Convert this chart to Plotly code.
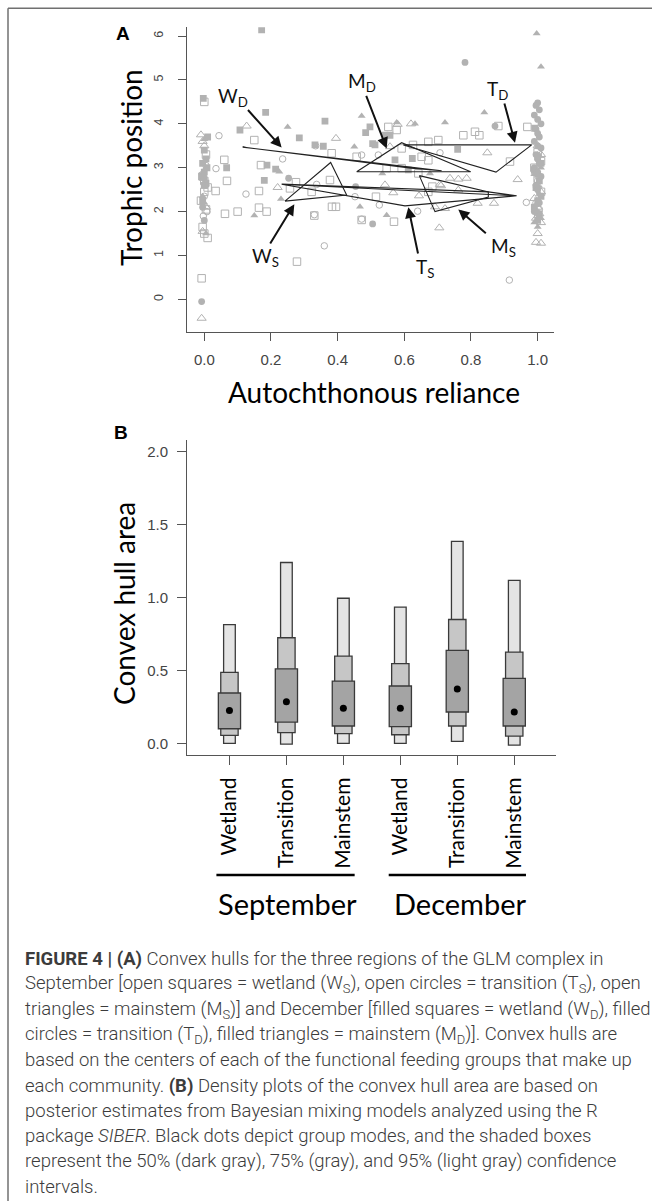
import plotly.graph_objects as go

W, H = 652, 1201
def px(x): return x / W
def py(y): return 1 - y / H

# ---------------- Panel A data ----------------
sep_wet_x = [0.0, 0.005, -0.005, 0.0, 0.01, 0.0, -0.01, 0.005, -0.005, 0.0, 0.01, -0.008,
             0.15, 0.06, 0.17, 0.377, 0.068, 0.275, 0.257, 0.034, 0.164, 0.322, 0.062, 0.1, 0.164,
             0.187, 0.383, 0.395, 0.33, 0.472, 0.278, 0.569, 0.515, 0.457, 0.552, 0.577, 0.626,
             0.652, 0.672, 0.592, 0.547, 0.592, 0.642, 0.672, 0.702, 0.777, 0.812, 0.825, 0.882,
             0.969, 0.917, 0.684, 0.672, 0.382, 1.0, 1.01, 0.99, 1.0, 1.01]
sep_wet_y = [4.5, 3.3, 2.8, 2.7, 2.55, 2.45, 2.25, 2.05, 1.65, 1.5, 1.4, 0.48,
             3.63, 3.18, 3.06, 2.72, 2.7, 2.67, 2.53, 2.47, 2.47, 2.45, 1.95, 2.0, 2.09,
             2.0, 2.11, 2.11, 1.91, 1.81, 0.86, 1.77, 2.34, 3.25, 3.93, 3.86, 3.52,
             3.25, 3.17, 3.44, 2.99, 2.99, 2.87, 3.59, 3.63, 3.74, 3.82, 3.74, 3.95,
             3.93, 3.14, 2.57, 2.45, 3.33, 3.35, 3.15, 3.0, 2.75, 2.45]

sep_tra_x = [0.044, 0.334, 0.472, 0.235, 0.035, 0.337, 0.125, 0.452, 0.33, 0.472, 0.36, 0.525,
             0.64, 0.707, 0.966, 0.915, 0.522, 0.005, -0.005, 0.0, 0.008, -0.003,
             1.0, 0.995, 1.005, 1.0]
sep_tra_y = [3.73, 3.5, 3.29, 3.2, 2.98, 2.62, 2.4, 2.34, 1.93, 1.83, 1.22, 2.15,
             2.01, 3.34, 2.21, 0.44, 3.29, 3.05, 2.85, 2.35, 2.0, 1.9,
             2.7, 2.2, 2.05, 1.9]

sep_mai_x = [0.127, 0.395, 0.22, 0.58, 0.62, 0.557, 0.542, 0.567, 0.644, 0.707, 0.737, 0.762,
             0.787, 0.762, 0.71, 0.82, 0.869, 0.705, 0.849, 0.94, 0.692, 0.722,
             -0.01, -0.005, 0.0, 0.005, -0.005, -0.008,
             1.0, 1.01, 0.995, 1.0, 1.01, 0.99, 1.0, 1.005, 0.995, 1.01, 1.0, 0.995, 1.01]
sep_mai_y = [3.95, 3.67, 2.55, 3.99, 4.0, 3.48, 2.61, 2.43, 2.36, 2.62, 2.76, 2.74,
             2.76, 2.49, 2.59, 2.19, 2.19, 1.63, 3.34, 2.73, 2.11, 2.07,
             3.75, 3.6, 3.5, 2.1, 1.55, -0.43,
             3.5, 3.3, 2.9, 2.6, 2.45, 2.3, 2.1, 1.95, 1.85, 1.75, 1.5, 1.3, 1.28]

dec_wet_x = [0.172, -0.003, 0.184, 0.362, 0.107, 0.285, 0.357, 0.332, 0.067, 0.188, 0.214, 0.18,
             0.497, 0.484, 0.512, 0.505, 0.557, 0.542, 0.624, 0.572, 0.76, 0.612, 0.991,
             0.01, 0.0, 0.005, -0.005, 0.008, 0.0, -0.008, 0.005, 0.0, -0.005,
             1.0, 1.01, 0.99, 1.0, 1.005, 0.995, 1.01, 1.0, 0.99, 1.005, 1.0]
dec_wet_y = [6.14, 4.58, 4.26, 4.06, 3.86, 3.68, 3.49, 3.52, 3.0, 3.06, 2.97, 2.71,
             3.93, 3.8, 3.52, 3.55, 3.74, 3.74, 3.21, 3.18, 3.42, 2.95, 3.9,
             3.7, 3.4, 3.2, 3.1, 3.0, 2.9, 2.8, 2.65, 2.6, 2.25,
             3.25, 3.1, 2.95, 2.85, 2.7, 2.55, 2.35, 2.25, 2.1, 1.95, 1.8]

dec_tra_x = [0.782, 0.253, 0.454, 0.505, 0.872, -0.008, 0.0, 0.005, -0.005, 0.0,
             1.0, 0.995, 1.005, 0.99, 1.0, 1.01, 0.995, 1.0, 1.005, 0.99, 1.0, 1.01,
             0.995, 1.0, 1.005, 0.99, 1.0, 1.01, 0.995, 1.0, 1.005, 0.99]
dec_tra_y = [5.4, 2.76, 2.57, 1.72, 3.95, -0.05, 2.75, 2.6, 2.1, 1.8,
             4.48, 4.42, 4.32, 4.2, 4.1, 4.0, 3.88, 3.78, 3.7, 3.6, 3.5, 3.45,
             3.3, 3.2, 3.1, 3.0, 2.9, 2.8, 2.6, 2.5, 2.2, 2.0]

dec_mai_x = [0.25, 0.472, 0.45, 0.225, 0.23, 0.15, 0.467, 0.997, 1.01, 0.84, 0.722, 0.577,
             0.632, 0.547, 0.534, 0.677, 0.0, 0.005, -0.005, 0.0, 0.005,
             1.0, 1.01, 0.99, 1.0, 1.005, 0.995, 1.0, 1.01, 0.99, 1.0]
dec_mai_y = [3.93, 4.18, 3.48, 2.91, 2.29, 1.91, 2.11, 6.06, 5.3, 4.26, 4.03, 4.03,
             4.0, 1.92, 2.87, 2.87, 3.65, 3.0, 2.35, 2.2, 1.5,
             3.3, 3.0, 2.85, 2.6, 2.4, 2.15, 2.0, 1.85, 1.75, 1.65]

# convex hull outlines (vertex paths)
hulls = {
    "WD": ([0.115, 0.712, 0.62, 0.115], [3.47, 2.93, 2.99, 3.47]),
    "MD": ([0.457, 0.592, 0.799, 0.457], [2.91, 3.57, 2.91, 2.91]),
    "TD": ([0.597, 0.982, 0.875, 0.597], [3.52, 3.52, 2.90, 3.52]),
    "WS": ([0.242, 0.379, 0.427, 0.242], [2.24, 3.12, 2.38, 2.24]),
    "TS": ([0.232, 0.852, 0.937, 0.232, 0.602, 0.937], [2.63, 2.45, 2.36, 2.625, 2.13, 2.36]),
    "MS": ([0.645, 0.852, 0.852, 0.692, 0.645], [2.82, 2.45, 2.33, 2.00, 2.82]),
}

# hull labels: text, label position, arrow tail, arrow head
hull_labels = [
    ("W<sub>D</sub>", 0.087, 4.62, 0.127, 4.35, 0.232, 3.46),
    ("M<sub>D</sub>", 0.472, 4.96, 0.484, 4.67, 0.547, 3.44),
    ("T<sub>D</sub>", 0.879, 4.77, 0.899, 4.50, 0.932, 3.57),
    ("W<sub>S</sub>", 0.184, 0.96, 0.195, 1.24, 0.270, 2.17),
    ("T<sub>S</sub>", 0.662, 0.71, 0.642, 1.01, 0.612, 2.10),
    ("M<sub>S</sub>", 0.897, 1.19, 0.849, 1.48, 0.762, 2.05),
]

# ---------------- Panel B data ----------------
groups = ["Wetland", "Transition", "Mainstem", "Wetland", "Transition", "Mainstem"]
gpos = [1, 2, 3, 4, 5, 6]
ci95_lo = [0.0, -0.005, 0.0, 0.0, 0.014, -0.012]
ci95_hi = [0.814, 1.24, 0.995, 0.934, 1.385, 1.117]
ci75_lo = [0.055, 0.073, 0.066, 0.059, 0.119, 0.050]
ci75_hi = [0.486, 0.724, 0.598, 0.546, 0.849, 0.626]
ci50_lo = [0.100, 0.146, 0.119, 0.114, 0.215, 0.119]
ci50_hi = [0.345, 0.511, 0.427, 0.393, 0.637, 0.445]
modes = [0.226, 0.285, 0.240, 0.240, 0.372, 0.215]
seasons = ["September", "December"]

caption = [
    "<b>FIGURE 4 | (A)</b> Convex hulls for the three regions of the GLM complex in",
    "September [open squares = wetland (W<sub>S</sub>), open circles = transition (T<sub>S</sub>), open",
    "triangles = mainstem (M<sub>S</sub>)] and December [filled squares = wetland (W<sub>D</sub>), filled",
    "circles = transition (T<sub>D</sub>), filled triangles = mainstem (M<sub>D</sub>)]. Convex hulls are",
    "based on the centers of each of the functional feeding groups that make up",
    "each community. <b>(B)</b> Density plots of the convex hull area are based on",
    "posterior estimates from Bayesian mixing models analyzed using the R",
    "package <i>SIBER</i>. Black dots depict group modes, and the shaded boxes",
    "represent the 50% (dark gray), 75% (gray), and 95% (light gray) confidence",
    "intervals.",
]

PTC = "#b2b2b2"
TXT = "Lato"
fig = go.Figure()

def add_pts(xs, ys, sym, size, filled):
    if filled:
        m = dict(symbol=sym, size=size, color=PTC, line=dict(width=0))
    else:
        m = dict(symbol=sym, size=size, color=PTC, line=dict(width=1, color=PTC))
    fig.add_trace(go.Scatter(x=xs, y=ys, mode="markers", marker=m, xaxis="x", yaxis="y",
                             showlegend=False, hoverinfo="skip"))

add_pts(sep_wet_x, sep_wet_y, "square-open", 7.5, False)
add_pts(sep_tra_x, sep_tra_y, "circle-open", 6.5, False)
add_pts(sep_mai_x, sep_mai_y, "triangle-up-open", 8, False)
add_pts(dec_wet_x, dec_wet_y, "square", 6.8, True)
add_pts(dec_tra_x, dec_tra_y, "circle", 6.8, True)
add_pts(dec_mai_x, dec_mai_y, "triangle-up", 7, True)

for k, (hx, hy) in hulls.items():
    fig.add_trace(go.Scatter(x=hx, y=hy, mode="lines", line=dict(color="#222", width=1.1),
                             xaxis="x", yaxis="y", showlegend=False, hoverinfo="skip"))

ann = []
for t, lx, ly, tx, ty, hx, hy in hull_labels:
    ann.append(dict(text=t, x=lx, y=ly, xref="x", yref="y", showarrow=False,
                    xanchor="center", yanchor="middle",
                    font=dict(family=TXT, size=19, color="#111")))
    ann.append(dict(text="", x=hx, y=hy, ax=tx, ay=ty, xref="x", yref="y", axref="x", ayref="y",
                    showarrow=True, arrowhead=2, arrowsize=1.1, arrowwidth=2, arrowcolor="#111"))

# Panel B boxes
for lo, hi, w, col in [(ci95_lo, ci95_hi, 0.205, "#e4e4e4"),
                       (ci75_lo, ci75_hi, 0.305, "#c6c6c6"),
                       (ci50_lo, ci50_hi, 0.39, "#a4a4a4")]:
    fig.add_trace(go.Bar(x=gpos, y=[h - l for l, h in zip(lo, hi)], base=lo, width=w,
                         marker=dict(color=col, line=dict(color="#3a3a3a", width=1.3)),
                         xaxis="x2", yaxis="y2", showlegend=False, hoverinfo="skip"))
fig.add_trace(go.Scatter(x=gpos, y=modes, mode="markers", marker=dict(color="black", size=7),
                         xaxis="x2", yaxis="y2", showlegend=False, hoverinfo="skip"))

# season bars, figure frame
shapes = [
    dict(type="line", xref="x2", yref="paper", x0=0.771, x1=3.198, y0=py(875), y1=py(875),
         line=dict(color="black", width=2.5)),
    dict(type="line", xref="x2", yref="paper", x0=3.796, x1=6.206, y0=py(875), y1=py(875),
         line=dict(color="black", width=2.5)),
    dict(type="line", xref="paper", yref="paper", x0=px(8), x1=1, y0=py(8.3), y1=py(8.3),
         line=dict(color="#707070", width=1.5)),
    dict(type="line", xref="paper", yref="paper", x0=px(8), x1=px(8), y0=py(8.3), y1=0,
         line=dict(color="#707070", width=1.5)),
]

def pann(text, x, y, size, family=TXT, angle=0, color="black", xa="center"):
    return dict(text=text, x=px(x), y=py(y), xref="paper", yref="paper", showarrow=False,
                xanchor=xa, yanchor="middle", textangle=angle,
                font=dict(family=family, size=size, color=color))

for s, cx in zip(seasons, [287.7, 460.3]):
    ann.append(pann(s, cx, 903, 29))

ann += [
    pann("Trophic position", 131, 168, 28, angle=-90),
    pann("Autochthonous reliance", 374, 392, 28),
    pann("Convex hull area", 124, 604, 28, angle=-90),
    pann("<b>A</b>", 122.5, 33, 19, family="Liberation Sans"),
    pann("<b>B</b>", 120.7, 432, 19, family="Liberation Sans"),
]
for i, line in enumerate(caption):
    a = pann(line, 22.7, 959 + i * 25.3, 18.5, family="Roboto", color="#3c3c3c", xa="left")
    a["font"]["weight"] = 300
    ann.append(a)

axc = "#555"
fig.update_layout(
    width=W, height=H, margin=dict(l=0, r=0, t=0, b=0),
    paper_bgcolor="white", plot_bgcolor="white", barmode="overlay",
    xaxis=dict(domain=[px(187.3), px(554)], range=[-0.051, 1.049], anchor="y",
               tickvals=[0, 0.2, 0.4, 0.6, 0.8, 1.0], ticktext=["0.0", "0.2", "0.4", "0.6", "0.8", "1.0"],
               showline=True, linecolor=axc, linewidth=1.3, ticks="outside", ticklen=8,
               tickcolor=axc, tickwidth=1.2, showgrid=False, zeroline=False,
               tickfont=dict(family="Liberation Sans", size=15, color="#444"), ticklabelstandoff=6),
    yaxis=dict(domain=[py(332.3), py(27.3)], range=[-0.75, 6.2], anchor="x",
               tickvals=[0, 1, 2, 3, 4, 5, 6], tickangle=-90,
               showline=True, linecolor=axc, linewidth=1.3, ticks="outside", ticklen=8,
               tickcolor=axc, tickwidth=1.2, showgrid=False, zeroline=False,
               tickfont=dict(family="Liberation Sans", size=12.5, color="#444"), ticklabelstandoff=10),
    xaxis2=dict(domain=[px(187.3), px(556.4)], range=[0.26, 6.74], anchor="y2",
                tickvals=gpos, ticktext=groups, tickangle=-90,
                showline=True, linecolor=axc, linewidth=1.3, ticks="outside", ticklen=9,
                tickcolor=axc, tickwidth=1.2, showgrid=False, zeroline=False,
                tickfont=dict(family=TXT, size=21, color="black"), ticklabelstandoff=4),
    yaxis2=dict(domain=[py(755), py(440)], range=[-0.08, 2.08], anchor="x2",
                tickvals=[0, 0.5, 1.0, 1.5, 2.0], ticktext=["0.0", "0.5", "1.0", "1.5", "2.0"],
                showline=True, linecolor=axc, linewidth=1.3, ticks="outside", ticklen=9,
                tickcolor=axc, tickwidth=1.2, showgrid=False, zeroline=False,
                tickfont=dict(family="Liberation Sans", size=15, color="#444"), ticklabelstandoff=6),
    annotations=ann, shapes=shapes,
)
fig.write_html("out.html", config={"displayModeBar": False},
               post_script="document.body.style.margin='0';")
